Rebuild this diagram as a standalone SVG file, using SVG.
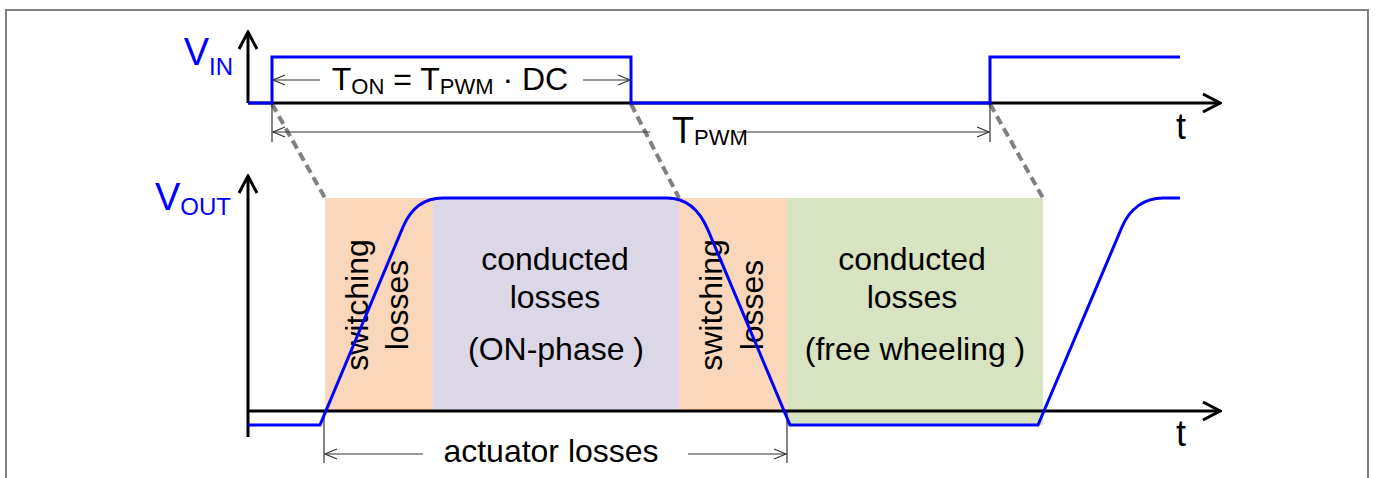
<svg xmlns="http://www.w3.org/2000/svg" width="1375" height="478" viewBox="0 0 1375 478">
<style>
text{font-family:"Liberation Sans",Arial,sans-serif;fill:#000}
.lbl{font-size:32px}
.blue{fill:#0000FF}
.sig{fill:none;stroke:#0000FF;stroke-width:3;stroke-linejoin:miter}
.axis{fill:none;stroke:#000;stroke-width:3}
.dim{fill:none;stroke:#333;stroke-width:1.2}
.dash{fill:none;stroke:#808080;stroke-width:4;stroke-dasharray:9 5}
</style>
<defs>
<marker id="dimArrow" viewBox="-13 -6 14 12" markerWidth="14" markerHeight="12" refX="0" refY="0" orient="auto" markerUnits="userSpaceOnUse">
<path d="M-12,-5 L0,0 L-12,5" fill="none" stroke="#333" stroke-width="1.2"/>
</marker>
<marker id="axArrow" viewBox="-19 -11 21 22" markerWidth="21" markerHeight="22" refX="0" refY="0" orient="auto" markerUnits="userSpaceOnUse">
<path d="M-17,-9 L0,0 L-17,9" fill="none" stroke="#000" stroke-width="3"/>
</marker>
</defs>
<rect x="6" y="10" width="1362" height="500" fill="#fff" stroke="#808080" stroke-width="2"/>

<g id="regions">
<rect id="sw1" x="325" y="198" width="108" height="213" fill="#FAD7BB"/>
<rect id="cond-on" x="433" y="198" width="246" height="213" fill="#DCD7E6"/>
<rect id="sw2" x="679" y="198" width="108" height="213" fill="#FAD7BB"/>
<rect id="cond-fw" x="787" y="198" width="256" height="227" fill="#D8E3C1"/>
</g>

<g id="region-labels">
<text class="lbl" text-anchor="middle" transform="translate(368,305) rotate(-90)">switching</text>
<text class="lbl" text-anchor="middle" transform="translate(408,305) rotate(-90)">losses</text>
<text class="lbl" text-anchor="middle" transform="translate(722,305) rotate(-90)">switching</text>
<text class="lbl" text-anchor="middle" transform="translate(763,305) rotate(-90)">losses</text>
<text class="lbl" x="555" y="270" text-anchor="middle">conducted</text>
<text class="lbl" x="555" y="308" text-anchor="middle">losses</text>
<text class="lbl" x="556" y="360" text-anchor="middle">(ON-phase )</text>
<text class="lbl" x="912" y="270" text-anchor="middle">conducted</text>
<text class="lbl" x="912" y="308" text-anchor="middle">losses</text>
<text class="lbl" x="915" y="360" text-anchor="middle">(free wheeling )</text>
</g>

<g id="connectors">
<line class="dash" x1="272" y1="104" x2="325" y2="198"/>
<line class="dash" x1="631" y1="104" x2="679" y2="198"/>
<line class="dash" x1="990" y1="104" x2="1043" y2="198"/>
<line class="dim" x1="320" y1="80" x2="273" y2="80" marker-end="url(#dimArrow)"/>
<line class="dim" x1="583" y1="80" x2="630" y2="80" marker-end="url(#dimArrow)"/>
<line class="dim" x1="272" y1="103" x2="272" y2="142"/>
<line class="dim" x1="990" y1="103" x2="990" y2="142"/>
<line class="dim" x1="650" y1="132" x2="273" y2="132" marker-end="url(#dimArrow)"/>
<line class="dim" x1="737" y1="132" x2="989" y2="132" marker-end="url(#dimArrow)"/>
<line class="dim" x1="324" y1="411" x2="324" y2="463"/>
<line class="dim" x1="787" y1="411" x2="787" y2="463"/>
<line class="dim" x1="423" y1="454" x2="325" y2="454" marker-end="url(#dimArrow)"/>
<line class="dim" x1="688" y1="454" x2="786" y2="454" marker-end="url(#dimArrow)"/>
</g>

<g id="axes">
<line class="axis" x1="248" y1="103" x2="248" y2="32" marker-end="url(#axArrow)"/>
<line class="axis" x1="248" y1="103" x2="1220" y2="103" marker-end="url(#axArrow)"/>
<line class="axis" x1="248" y1="437" x2="248" y2="176" marker-end="url(#axArrow)"/>
<line class="axis" x1="248" y1="411" x2="1220" y2="411" marker-end="url(#axArrow)"/>
</g>

<g id="signals">
<path id="vin" class="sig" d="M248,103 L272,103 L272,57 L631,57 L631,103 L990,103 L990,57 L1180,57"/>
<path id="vout" class="sig" d="M248,425 L320,425 L403,227 C411,208 425,198 443,198 L667,198 C687,198 700,211 708,230 L790,425 L1038,425 L1122,227 C1130,208 1145,198 1163,198 L1180,198"/>
</g>

<g id="labels">
<text x="233" y="65" text-anchor="end" class="blue" font-size="38">V<tspan font-size="24" dy="10">IN</tspan></text>
<text x="231" y="210" text-anchor="end" class="blue" font-size="38">V<tspan font-size="24" dy="5">OUT</tspan></text>
<text x="450" y="90" text-anchor="middle" font-size="32">T<tspan font-size="22" dy="4">ON</tspan><tspan dy="-4"> = T</tspan><tspan font-size="22" dy="4">PWM</tspan><tspan dy="-4"> · DC</tspan></text>
<text x="710" y="143" text-anchor="middle" font-size="36">T<tspan font-size="22" dy="2">PWM</tspan></text>
<text x="1181" y="139" text-anchor="middle" font-size="36">t</text>
<text x="1181" y="446" text-anchor="middle" font-size="36">t</text>
<text class="lbl" x="551" y="462" text-anchor="middle">actuator losses</text>
</g>
</svg>
